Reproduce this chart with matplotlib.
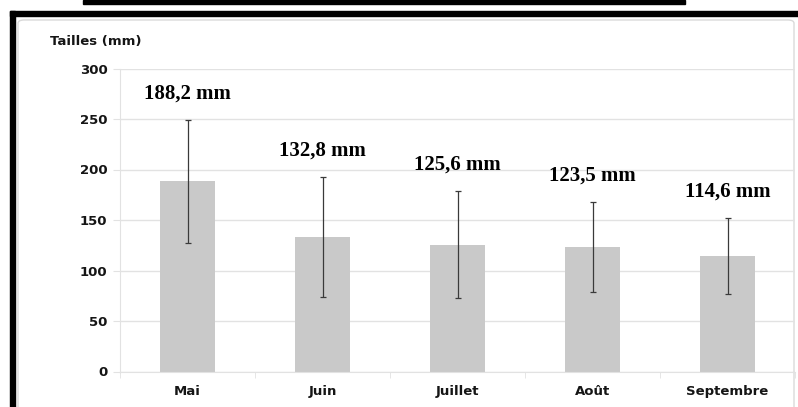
import numpy as np
import matplotlib.pyplot as plt
from matplotlib.patches import Rectangle, FancyBboxPatch

# Monthly mean sizes with standard deviation
mois = ['Mai', 'Juin', 'Juillet', 'Août', 'Septembre']
tailles = [188.2, 132.8, 125.6, 123.5, 114.6]
ecarts = [61.0, 59.5, 53.0, 44.5, 37.7]
etiquettes = ['188,2 mm', '132,8 mm', '125,6 mm', '123,5 mm', '114,6 mm']
yticks = [0, 50, 100, 150, 200, 250, 300]

W, H = 798, 407
fig = plt.figure(figsize=(W / 100, H / 100), dpi=100)

def px(x0, y0, w, h):
    # pixel box (from top-left) to figure fraction
    return (x0 / W, 1 - (y0 + h) / H, w / W, h / H)

# black frame pieces around the picture
for (x0, y0, w, h) in [(83, 0, 602, 4), (10, 11, 788, 5), (10, 11, 5, 396)]:
    bx, by, bw, bh = px(x0, y0, w, h)
    fig.patches.append(Rectangle((bx, by), bw, bh, transform=fig.transFigure,
                                 color='black', zorder=0))

# light inner chart frame
fx, fy, fw, fh = px(18, 20, 776, 400)
fig.patches.append(FancyBboxPatch((fx, fy), fw, fh, boxstyle='round,pad=0,rounding_size=0.008',
                                  transform=fig.transFigure, fc='white', ec='#dadada', lw=1.0, zorder=0))

ax = fig.add_axes([120 / W, 35.5 / H, 675 / W, 303 / H])
ax.set_zorder(2)
ax.set_facecolor('none')

x = np.arange(len(mois))
ax.bar(x, tailles, width=0.41, color='#c9c9c9', zorder=2)
ax.errorbar(x, tailles, yerr=ecarts, fmt='none', ecolor='#3a3a3a', elinewidth=0.9,
            capsize=2.5, capthick=0.9, zorder=3)

for xi, t, e, lab in zip(x, tailles, ecarts, etiquettes):
    ax.annotate(lab, (xi, t + e), xytext=(0, 19), textcoords='offset points',
                ha='center', va='center', fontsize=15, fontweight='bold',
                family='Liberation Serif', color='black')

ax.set_xlim(-0.5, 4.5)
ax.set_ylim(0, 300)
ax.set_yticks(yticks)
ax.yaxis.grid(True, color='#e2e2e2', lw=1.0, zorder=0)
ax.set_axisbelow(True)

for s in ['top', 'right']:
    ax.spines[s].set_visible(False)
ax.spines['left'].set_color('#e2e2e2')
ax.spines['bottom'].set_color('#e2e2e2')

ax.tick_params(axis='y', length=5, color='#e2e2e2', pad=4, labelsize=9.5)
ax.set_xticks(x)
ax.set_xticklabels(mois)
ax.tick_params(axis='x', length=0, pad=10, labelsize=9.5)
ax.set_xticks(np.arange(-0.5, 5, 1), minor=True)
ax.tick_params(axis='x', which='minor', length=4, color='#e2e2e2')
for lbl in ax.get_xticklabels() + ax.get_yticklabels():
    lbl.set_fontweight('bold')
    lbl.set_color('#151515')

fig.text(50 / W, 1 - 42 / H, 'Tailles (mm)', ha='left', va='center',
         fontsize=9.5, fontweight='bold', color='#151515')

fig.savefig('out.png', dpi=100)
